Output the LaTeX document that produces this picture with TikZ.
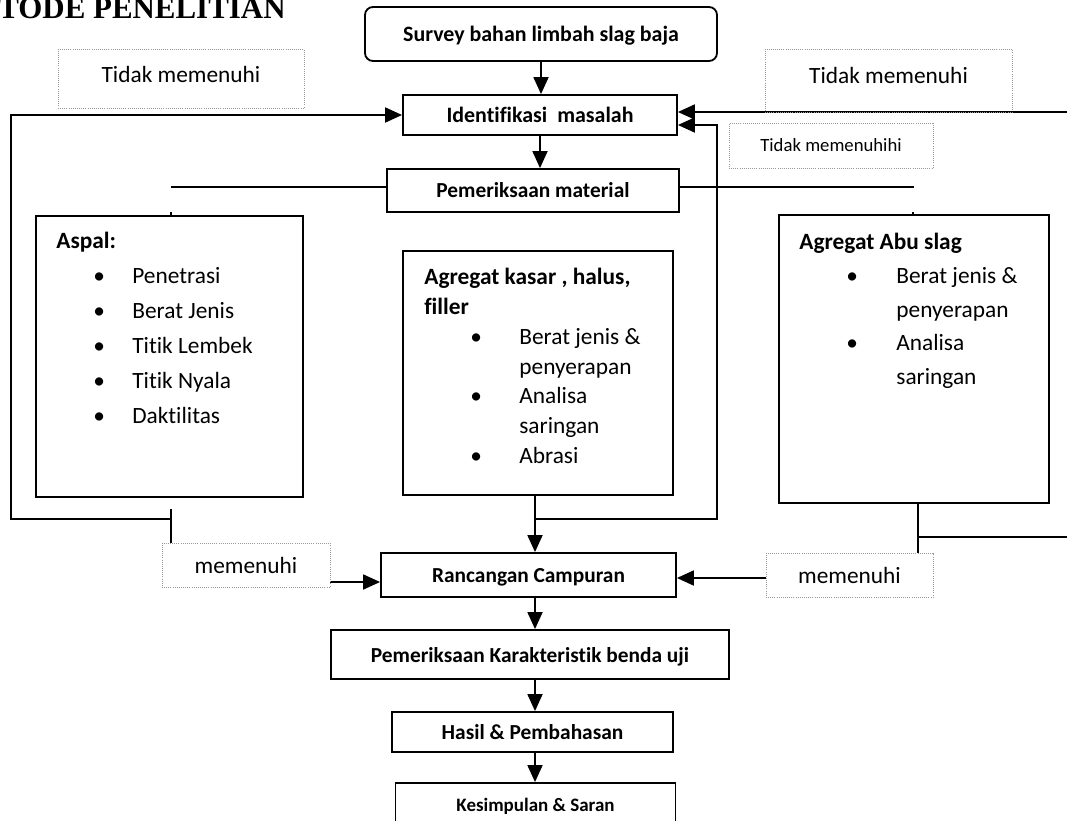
\documentclass[tikz,border=0pt]{standalone}
\usepackage{fontspec}
\setmainfont{Carlito}[Ligatures=NoCommon]
\newfontfamily\titlefont{Liberation Serif}
\usetikzlibrary{arrows.meta}
\newlength{\px}
\setlength{\px}{0.025cm}
\pgfdeclarelayer{edgelayer}
\pgfdeclarelayer{nodelayer}
\pgfsetlayers{edgelayer,nodelayer,main}
\tikzstyle{connector}=[draw=black, line width=1.3pt]
\tikzstyle{arrowconnector}=[connector, -{Triangle[length=4.25mm, width=3.75mm]}]
\tikzstyle{flowbox}=[rectangle, draw=black, line width=1.3pt, inner sep=0pt, text depth=0pt, font=\bfseries\fontsize{15.2}{18}\selectfont]
\tikzstyle{listbox}=[rectangle, draw=black, line width=1.3pt, inner sep=0pt]
\tikzstyle{listtext}=[anchor=north west, inner sep=0pt, align=left]
\tikzstyle{labelbox}=[rectangle, draw=black!40, densely dotted, line width=0.5pt, inner sep=0pt, font=\fontsize{16.6}{20}\selectfont]
\newcommand{\litem}[3]{\hspace*{#1\px}\makebox[#2\px][l]{\textbullet}#3}
\newcommand{\lcont}[2]{\hspace*{#1\px}#2}
\begin{document}
\begin{tikzpicture}[x=0.025cm, y=-0.025cm]
	\useasboundingbox (0, 0) rectangle (1067, 821);
	\begin{pgfonlayer}{nodelayer}
		\node [anchor=base west, inner sep=0pt, font=\titlefont\bfseries\fontsize{22}{24}\selectfont] (0) at (-2, 19) {TODE PENELITIAN};
		\node [style=flowbox, rounded corners=0.2cm, minimum width=352\px, minimum height=54\px, font=\bfseries\fontsize{15.6}{18}\selectfont] (1) at (541, 34) {Survey bahan limbah slag baja};
		\node [style=flowbox, minimum width=274\px, minimum height=40\px, font=\bfseries\fontsize{15.6}{18}\selectfont] (2) at (540, 115) {Identifikasi~ masalah};
		\node [style=labelbox, minimum width=246\px, minimum height=59\px, text depth=8\px] (3) at (181, 78.5) {Tidak memenuhi};
		\node [style=labelbox, minimum width=247\px, minimum height=63\px, text depth=11\px] (4) at (888.5, 80.5) {Tidak memenuhi};
		\node [style=labelbox, minimum width=204\px, minimum height=45\px, font=\fontsize{13.3}{16}\selectfont] (5) at (831, 145.5) {Tidak memenuhihi};
		\node [style=flowbox, minimum width=292\px, minimum height=43\px] (6) at (533, 190.5) {Pemeriksaan material};
		\node [style=listbox, minimum width=267\px, minimum height=281\px] (7) at (169.5, 356.5) {};
		\node [style=listtext, font=\fontsize{16.6}{24.9}\selectfont] (8) at ([shift={(21, 17)}]7.north west) {\textbf{Aspal:}\\
			\litem{37}{39}{Penetrasi}\\
			\litem{37}{39}{Berat Jenis}\\
			\litem{37}{39}{Titik Lembek}\\
			\litem{37}{39}{Titik Nyala}\\
			\litem{37}{39}{Daktilitas}};
		\node [style=listbox, minimum width=270\px, minimum height=244\px] (9) at (538, 373) {};
		\node [style=listtext, font=\fontsize{16.6}{21.2}\selectfont] (10) at ([shift={(22, 18)}]9.north west) {\textbf{Agregat kasar , halus,}\\
			\textbf{filler}\\
			\litem{46}{49}{Berat jenis \&}\\
			\lcont{95}{penyerapan}\\
			\litem{46}{49}{Analisa}\\
			\lcont{95}{saringan}\\
			\litem{46}{49}{Abrasi}};
		\node [style=listbox, minimum width=270\px, minimum height=288\px] (11) at (914, 359) {};
		\node [style=listtext, font=\fontsize{16.6}{24}\selectfont] (12) at ([shift={(21, 19)}]11.north west) {\textbf{Agregat Abu slag}\\
			\litem{47}{50}{Berat jenis \&}\\
			\lcont{97}{penyerapan}\\
			\litem{47}{50}{Analisa}\\
			\lcont{97}{saringan}};
		\node [style=labelbox, minimum width=168\px, minimum height=44\px] (13) at (246, 565) {memenuhi};
		\node [style=flowbox, minimum width=295\px, minimum height=44\px] (14) at (528.5, 575) {Rancangan Campuran};
		\node [style=labelbox, minimum width=167\px, minimum height=44\px] (15) at (849.5, 575) {memenuhi};
		\node [style=flowbox, minimum width=398\px, minimum height=49\px] (16) at (530, 654.5) {Pemeriksaan Karakteristik benda uji};
		\node [style=flowbox, minimum width=281\px, minimum height=40\px] (17) at (532.5, 732) {Hasil \& Pembahasan};
		\node [style=flowbox, minimum width=280\px, minimum height=44\px, font=\bfseries\fontsize{13.5}{16}\selectfont] (18) at (535.5, 805) {Kesimpulan \& Saran};
		\coordinate (20) at (171, 187);
		\coordinate (21) at (914, 187);
		\coordinate (22) at (171, 212);
		\coordinate (23) at (913, 212);
		\coordinate (24) at (11, 519);
		\coordinate (25) at (171, 519);
		\coordinate (26) at (171, 509);
		\coordinate (27) at (535, 519);
		\coordinate (28) at (717, 519);
		\coordinate (29) at (918, 0);
		\coordinate (30) at (918, 537);
		\coordinate (31) at (1067, 537);
		\coordinate (32) at (1067, 112);
		\coordinate (33) at (535, 0);
		\coordinate (34) at ([yshift=-10\px]2.east);
		\coordinate (35) at ([yshift=-17\px]13.east);
		\coordinate (36) at ([yshift=-3\px]15.west);
	\end{pgfonlayer}
	\begin{pgfonlayer}{edgelayer}
		\draw [style=arrowconnector] (1.south) to (1.south |- 2.north);
		\draw [style=arrowconnector] (2.south) to (2.south |- 6.north);
		\draw [style=connector] (20) to (20 -| 6.west);
		\draw [style=connector] (21 -| 6.east) to (21);
		\draw [style=connector] (22) to (22 |- 7.north);
		\draw [style=connector] (23) to (23 |- 11.north);
		\draw [style=arrowconnector] (25) to (24) |- (2.west);
		\draw [style=connector] (26) to (26 |- 13.north);
		\draw [style=arrowconnector] (27) to (28) |- (34);
		\draw [style=arrowconnector] (32) to (32 -| 2.east);
		\draw [style=connector] (11.south -| 29) to (29 |- 15.north);
		\draw [style=connector] (30) to (31);
		\draw [style=arrowconnector] (9.south -| 33) to (14.north -| 33);
		\draw [style=arrowconnector] (35) to (35 -| 14.west);
		\draw [style=arrowconnector] (36) to (36 -| 14.east);
		\draw [style=arrowconnector] (14.south -| 33) to (16.north -| 33);
		\draw [style=arrowconnector] (16.south -| 33) to (17.north -| 33);
		\draw [style=arrowconnector] (17.south -| 33) to (18.north -| 33);
	\end{pgfonlayer}
\end{tikzpicture}
\end{document}
